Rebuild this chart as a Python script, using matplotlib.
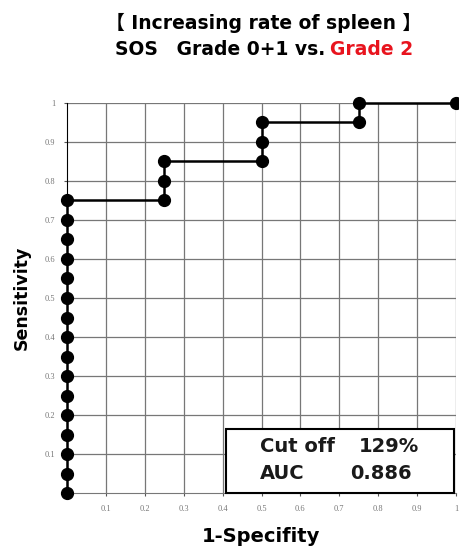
from matplotlib import pyplot as plt
from matplotlib.patches import Rectangle

plt.rcParams['font.family'] = ['DejaVu Sans', 'Noto Sans CJK JP']

# ROC points (1-specificity, sensitivity)
fpr = [0] * 16 + [0.25, 0.25, 0.25, 0.5, 0.5, 0.5, 0.75, 0.75, 1.0]
tpr = [i * 0.05 for i in range(16)] + [0.75, 0.8, 0.85, 0.85, 0.9, 0.95, 0.95, 1.0, 1.0]
ticks = [0.1, 0.2, 0.3, 0.4, 0.5, 0.6, 0.7, 0.8, 0.9, 1.0]
tick_labels = ['0.1', '0.2', '0.3', '0.4', '0.5', '0.6', '0.7', '0.8', '0.9', '1']
cut_off = '129%'
auc = '0.886'

fig = plt.figure(figsize=(4.59, 5.52), dpi=100)
ax = fig.add_axes([67 / 459, 59 / 552, 389 / 459, 390 / 552])

ax.plot(fpr, tpr, color='black', lw=1.8, marker='o', markersize=8.5,
        clip_on=False, zorder=5)
ax.set_xlim(0, 1)
ax.set_ylim(0, 1)

ax.set_xticks(ticks)
ax.set_xticklabels(tick_labels)
ax.set_yticks(ticks)
ax.set_yticklabels(tick_labels)
ax.tick_params(labelsize=6, labelcolor='#777777', length=2.5, width=0.8,
               color='#555555', pad=6)
for lab in ax.get_xticklabels() + ax.get_yticklabels():
    lab.set_family('Liberation Serif')

ax.grid(True, color='#777777', lw=0.9)
ax.set_axisbelow(True)
for s in ['top', 'right']:
    ax.spines[s].set_visible(False)
ax.spines['bottom'].set_color('#777777')
ax.spines['left'].set_color('black')

ax.set_xlabel('1-Specifity', fontsize=14, fontweight='bold', labelpad=10)
ax.set_ylabel('Sensitivity', fontsize=12.5, fontweight='bold', labelpad=10)

# result box
box = Rectangle((0.41, 0.0), 0.585, 0.165, transform=ax.transAxes,
                facecolor='white', edgecolor='black', lw=1.5, zorder=6,
                clip_on=False)
ax.add_patch(box)
kw = dict(transform=ax.transAxes, fontsize=14, fontweight='bold',
          color='#1a1a1a', va='center', zorder=7)
ax.text(0.495, 0.118, 'Cut off', **kw)
ax.text(0.75, 0.118, cut_off, **kw)
ax.text(0.495, 0.05, 'AUC', **kw)
ax.text(0.728, 0.05, auc, **kw)

# title
fig.text(264 / 459, 1 - 23 / 552, '【 Increasing rate of spleen 】', fontsize=13.5,
         fontweight='bold', ha='center', va='center')
fig.text(325 / 459, 1 - 49 / 552, 'SOS\u3000Grade 0+1 vs.', fontsize=13.5,
         fontweight='bold', ha='right', va='center')
fig.text(330 / 459, 1 - 49 / 552, 'Grade 2', fontsize=13.5, color='#e8141e',
         fontweight='bold', ha='left', va='center')

fig.savefig('out.png', dpi=100)
